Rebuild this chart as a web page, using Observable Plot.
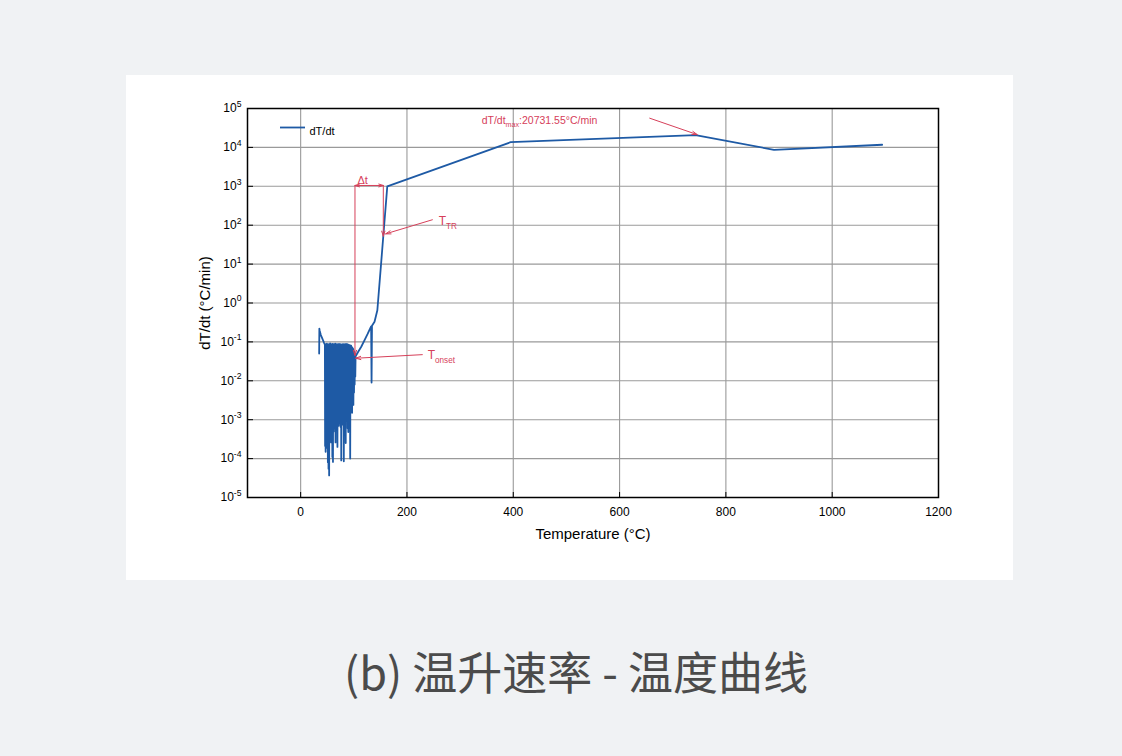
<!DOCTYPE html>
<html>
<head>
<meta charset="utf-8">
<script src="https://cdn.jsdelivr.net/npm/d3@7"></script>
<script src="https://cdn.jsdelivr.net/npm/@observablehq/plot@0.6"></script>
<style>
  html, body { margin: 0; padding: 0; }
  body { width: 1122px; height: 756px; background: #f0f2f4; position: relative; overflow: hidden; }
  #card { position: absolute; left: 126px; top: 75px; width: 887px; height: 505px; background: #fff; }
  #card svg { display: block; }
  #caption {
    position: absolute; left: 0; top: 648px; width: 1152px; text-align: center;
    font-family: "Noto Sans CJK SC", "Noto Sans", sans-serif; font-size: 45px; line-height: 1;
    color: #4b4b4b; white-space: nowrap;
  }
</style>
</head>
<body>
<div id="card"></div>
<div id="caption">(b) 温升速率 - 温度曲线</div>
<script>
// Heating-rate curve: temperature (°C) vs dT/dt (°C/min), log scale.
const xTicks = [0, 200, 400, 600, 800, 1000, 1200];
const xGrid = [0, 200, 400, 600, 800, 1000];
const yExponents = [-5, -4, -3, -2, -1, 0, 1, 2, 3, 4, 5];

// Start of the run: warm-up decay before the noisy baseline.
const warmup = [
  [34.8, 0.05], [35.2, 0.22], [35.6, 0.2], [38.0, 0.15], [41.0, 0.12], [44.0, 0.095], [45.6, 0.085]
];

// Noisy baseline below the onset temperature.
const baseline = [
  [46.0, 2.1e-4], [46.5, 0.084], [47.0, 1.5e-4], [47.5, 0.088], [48.0, 3.0e-4], [48.5, 0.083],
  [49.0, 1.9e-4], [49.5, 0.090], [50.0, 2.5e-4], [50.6, 0.086], [51.2, 8.0e-5], [51.8, 0.084],
  [52.4, 5.5e-5], [53.0, 0.088], [53.6, 3.7e-5], [54.2, 0.085], [54.8, 4.0e-4], [55.4, 0.091],
  [56.0, 3.2e-4], [56.6, 0.083], [57.2, 2.6e-4], [57.8, 0.087], [58.4, 4.5e-4], [59.0, 0.084],
  [59.6, 1.1e-4], [60.2, 0.089], [60.8, 8.2e-5], [61.4, 0.085], [62.0, 5.0e-4], [62.6, 0.088],
  [63.2, 7.0e-4], [63.8, 0.083], [64.4, 6.0e-4], [65.0, 0.090], [65.6, 2.6e-4], [66.2, 0.086],
  [66.8, 8.5e-4], [67.4, 0.088], [68.0, 5.5e-4], [68.6, 0.084], [69.2, 2.0e-4], [69.8, 0.087],
  [70.4, 9.0e-4], [71.0, 0.084], [71.6, 7.0e-4], [72.2, 0.089], [72.8, 1.1e-3], [73.4, 0.085],
  [74.0, 8.0e-4], [74.6, 0.088], [75.2, 6.5e-4], [75.8, 0.083], [76.4, 9.0e-5], [77.0, 0.086],
  [77.6, 1.0e-3], [78.2, 0.088], [78.8, 7.5e-4], [79.4, 0.084], [80.0, 1.2e-3], [80.6, 0.087],
  [81.2, 8.5e-5], [81.8, 0.084], [82.4, 1.3e-3], [83.0, 0.088], [83.6, 9.5e-4], [84.2, 0.085],
  [84.8, 2.5e-4], [85.4, 0.089], [86.0, 1.4e-3], [86.6, 0.084], [87.2, 1.1e-3], [87.8, 0.087],
  [88.4, 6.0e-4], [89.0, 0.083], [89.6, 4.8e-4], [90.2, 0.085], [90.8, 1.6e-3], [91.4, 0.081],
  [92.0, 1.2e-3], [92.6, 0.083], [93.2, 1.0e-4], [93.8, 0.078], [94.4, 1.8e-3], [95.0, 0.080],
  [95.6, 2.2e-3], [96.2, 0.074], [96.8, 1.5e-3], [97.4, 0.071], [98.0, 3.0e-3], [98.6, 0.067],
  [99.2, 2.4e-3], [99.8, 0.061], [100.4, 5.0e-3], [101.0, 0.056], [101.6, 8.0e-3], [102.2, 0.051],
  [102.8, 1.3e-2], [103.4, 0.047], [104.0, 0.044]
];

// Self-heating and thermal runaway.
const runaway = [
  [108.0, 0.055], [114.0, 0.075], [120.0, 0.11], [126.0, 0.16], [132.6, 0.25], [133.4, 0.009],
  [134.2, 0.26], [139.0, 0.33], [144.3, 0.65], [163.0, 1000], [395.0, 13600], [743.0, 20731.55],
  [890.5, 8670], [1094.0, 11700]
];

// Annotation anchors
const onsetT = 102.2, onsetRate = 0.045;
const trT = 155.5, trRate = 52;
const bracketRate = 1050;

const curve = [...warmup, ...baseline, ...runaway].map(([t, r]) => ({t, r}));
const peak = d3.greatest(curve, d => d.r);

const yTicks = yExponents.map(e => Math.pow(10, e));
const yGrid = yTicks.slice(1, -1);
const yMinor = d3.scaleLog().domain([1e-5, 1e5]).ticks().filter(v => !yTicks.some(t => Math.abs(v / t - 1) < 1e-9));

const red = "#d6405a";
const blue = "#1e5aa5";
const innerW = 887 - 121 - 75;
const innerH = 505 - 33 - 83;

const arrows = [
  {x1: onsetT, y1: bracketRate, x2: onsetT, y2: onsetRate},
  {x1: trT, y1: bracketRate, x2: trT, y2: trRate},
  {x1: (onsetT + trT) / 2, y1: bracketRate, x2: onsetT, y2: bracketRate},
  {x1: (onsetT + trT) / 2, y1: bracketRate, x2: trT, y2: bracketRate},
  {x1: 247.8, y1: 138, x2: 160, y2: 60},
  {x1: 228.9, y1: 0.047, x2: 103.5, y2: 0.038},
  {x1: 656.7, y1: 56300, x2: peak.t + 3, y2: peak.r * 1.03}
];

const bracketLabel = [{x: 116.7, y: 1410, s: "Δt"}];
const labels = [
  {x: 259.6, y: 124, s: "T{TR}", size: 12},
  {x: 239, y: 0.045, s: "T{onset}", size: 12},
  {x: 340.5, y: 49000, s: `dT/dt{max}:${peak.r}°C/min`, size: 10.5}
];

const chart = Plot.plot({
  width: 887,
  height: 505,
  marginLeft: 121,
  marginRight: 75,
  marginTop: 33,
  marginBottom: 83,
  style: {fontFamily: "'Liberation Sans', Arial, sans-serif", background: "white", color: "black", overflow: "visible"},
  x: {domain: [-100, 1200]},
  y: {type: "log", domain: [1e-5, 1e5]},
  marks: [
    Plot.ruleX(xGrid, {stroke: "#9a9a9a", strokeWidth: 1.1}),
    Plot.ruleY(yGrid, {stroke: "#9a9a9a", strokeWidth: 1.1}),
    Plot.ruleY(yMinor, {insetRight: innerW - 3.5, stroke: "black", strokeWidth: 1}),
    Plot.ruleY(yTicks, {insetRight: innerW - 6, stroke: "black", strokeWidth: 1}),
    Plot.ruleX(xTicks, {insetTop: innerH - 5, stroke: "black", strokeWidth: 1}),
    Plot.axisX({ticks: xTicks, tickSize: 0, tickPadding: 10, fontSize: 12, label: null, tickFormat: d => String(d)}),
    Plot.axisY({ticks: yTicks, tickSize: 0, tickPadding: 6, fontSize: 12, label: null,
      tickFormat: d => "10^" + Math.round(Math.log10(d))}),
    Plot.line(curve, {x: "t", y: "r", stroke: blue, strokeWidth: 1.8}),
    Plot.arrow(arrows, {x1: "x1", y1: "y1", x2: "x2", y2: "y2", stroke: red, strokeWidth: 1, headLength: 8, headAngle: 35}),
    Plot.text(bracketLabel, {x: "x", y: "y", text: "s", fontSize: 11, textAnchor: "middle", fill: red}),
    Plot.text(labels, {x: "x", y: "y", text: "s", fontSize: "size", textAnchor: "start", fill: red}),
    // legend
    Plot.ruleY([1e5], {insetLeft: 33, insetRight: innerW - 58, dy: 19, stroke: blue, strokeWidth: 1.8}),
    Plot.text(["dT/dt"], {text: d => d, frameAnchor: "top-left", dx: 62, dy: 19, textAnchor: "start", fontSize: 11}),
    // axis titles
    Plot.text(["Temperature (°C)"], {text: d => d, frameAnchor: "bottom", dy: 41, textAnchor: "middle", fontSize: 15}),
    Plot.text(["dT/dt (°C/min)"], {text: d => d, frameAnchor: "left", dx: -42, rotate: -90, textAnchor: "middle", fontSize: 15}),
    Plot.frame({stroke: "black", strokeWidth: 1.5})
  ]
});

document.getElementById("card").appendChild(chart);

// Render "^n" as a superscript and "{..}" as a subscript.
d3.select(chart).selectAll("text").each(function () {
  const s = this.textContent;
  if (!/[\^{]/.test(s)) return;
  const fs = parseFloat(getComputedStyle(this).fontSize) || 12;
  const sel = d3.select(this);
  sel.text(null);
  const re = /\^(-?\d+)|\{([^}]*)\}|([^\^{]+)/g;
  let m, shift = 0;
  while ((m = re.exec(s))) {
    if (m[1] != null) {
      const up = -fs * 0.45;
      sel.append("tspan").attr("dy", up - shift).attr("font-size", fs * 0.72).text(m[1]);
      shift = up;
    } else if (m[2] != null) {
      const down = fs * 0.3;
      sel.append("tspan").attr("dy", down - shift).attr("font-size", fs * 0.68).text(m[2]);
      shift = down;
    } else {
      const t = sel.append("tspan").text(m[3]);
      if (shift) t.attr("dy", -shift);
      shift = 0;
    }
  }
});
</script>
</body>
</html>
